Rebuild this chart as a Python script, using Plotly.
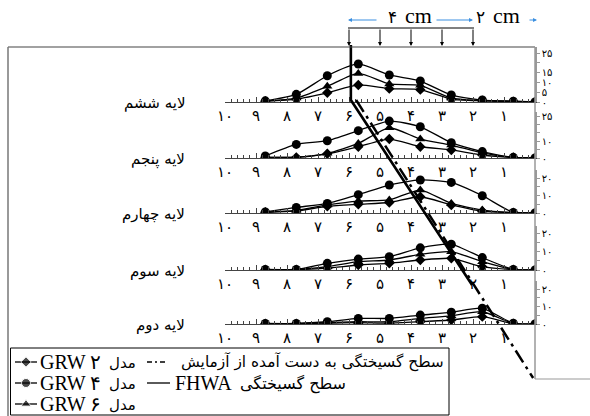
import plotly.graph_objects as go

W, H = 590, 416
FA = "۰۱۲۳۴۵۶۷۸۹"
def fa(n):
    return "".join(FA[int(c)] for c in str(n))

# ---------------- data ----------------
x_pos = [8.7, 7.7, 6.7, 5.7, 4.7, 3.7, 2.7, 1.7, 0.7, 0.0]
layer_names = ["لایه ششم", "لایه پنجم", "لایه چهارم", "لایه سوم", "لایه دوم"]

l6_grw2 = [0.4, 1.5, 4.7, 8.7, 6.8, 6.3, 1.5, 0.6, 0.2, 0]
l6_grw4 = [0.6, 3.9, 13.4, 19.4, 13.8, 10.7, 3.6, 1.0, 0.4, 0]
l6_grw6 = [0.5, 2.0, 8.0, 14.6, 9.2, 8.5, 2.0, 0.8, 0.3, 0]

l5_grw2 = [0.4, 0.4, 2.5, 6.7, 11.3, 6.7, 4.8, 1.8, 0.3, 0]
l5_grw4 = [1.2, 8.1, 10.3, 16.3, 22.0, 18.6, 9.1, 3.8, 0.4, 0]
l5_grw6 = [0.4, 0.5, 2.8, 8.7, 18.0, 11.3, 7.7, 3.0, 0.3, 0]

l4_grw2 = [0.4, 1.2, 3.8, 5.0, 6.0, 9.3, 4.6, 1.0, 0.2, 0]
l4_grw4 = [0.6, 3.2, 5.5, 10.5, 16.0, 18.9, 17.5, 9.9, 0.3, 0]
l4_grw6 = [0.4, 1.5, 4.6, 6.8, 7.5, 13.1, 5.5, 1.7, 0.3, 0]

l3_grw2 = [0.2, 0.2, 1.0, 2.7, 3.6, 5.4, 6.3, 1.8, 0.2, 0]
l3_grw4 = [0.3, 0.3, 3.6, 5.9, 7.2, 12.0, 13.9, 6.7, 0.3, 0]
l3_grw6 = [0.3, 0.3, 1.8, 4.5, 5.4, 8.5, 9.9, 4.5, 0.3, 0]

l2_grw2 = [0.2, 0.2, 0.5, 0.8, 0.5, 1.3, 2.3, 4.2, 0.2, 0]
l2_grw4 = [0.3, 0.3, 1.3, 3.2, 3.2, 5.1, 6.7, 9.0, 0.4, 0]
l2_grw6 = [0.2, 0.2, 0.8, 1.3, 1.3, 3.2, 4.7, 7.0, 0.3, 0]

panels = [
    (l6_grw2, l6_grw4, l6_grw6),
    (l5_grw2, l5_grw4, l5_grw6),
    (l4_grw2, l4_grw4, l4_grw6),
    (l3_grw2, l3_grw4, l3_grw6),
    (l2_grw2, l2_grw4, l2_grw6),
]
x_ticks = [1, 2, 3, 4, 5, 6, 7, 8, 9, 10]
y_tickvals = [[0, 5, 10, 15, 20, 25], [0, 5, 10, 15, 20, 25],
              [0, 5, 10, 15, 20], [0, 5, 10, 15, 20], [0, 5, 10, 15, 20]]
y_ticklabels = [[0, 5, 10, 15, None, 25], [0, None, 10, None, None, 25],
                [0, None, 10, None, 20], [0, None, 10, None, 20], [0, None, 10, None, 20]]

# failure surfaces (distance, depth)
fhwa_x = [5.94, 5.94, 2.03]
fhwa_depth = [45, 100, 285]
test_x = [5.77, 0.06]
test_depth = [100, 378]

# ---------------- layout helpers ----------------
def px(x):
    return x / W
def py(y):
    return 1 - y / H

xdom = [px(225), px(535)]
# (baseline px, top px, y max)
pan_geom = [(102, 47, 28.06), (158, 112, 27.4), (213, 170, 24.6), (270, 226, 23.8), (324, 281, 24.6)]

series_style = [("diamond", 8), ("circle", 9), ("triangle-up", 9)]

fig = go.Figure()
layout = dict(width=W, height=H, margin=dict(l=0, r=0, t=0, b=0, autoexpand=False),
              paper_bgcolor="white", plot_bgcolor="rgba(0,0,0,0)", showlegend=False)

for i, (data, geom) in enumerate(zip(panels, pan_geom)):
    k = "" if i == 0 else str(i + 1)
    base, top, ymax = geom
    for vals, (sym, sz) in zip(data, series_style):
        fig.add_trace(go.Scatter(x=x_pos, y=vals, xaxis="x" + k, yaxis="y" + k,
                                 mode="lines+markers",
                                 line=dict(color="black", width=1.3, shape="spline", smoothing=0.6),
                                 marker=dict(symbol=sym, size=sz, color="black")))
    layout["xaxis" + k] = dict(domain=xdom, range=[10, 0], anchor="y" + k,
                               showline=True, linecolor="#444", linewidth=1.2,
                               ticks="inside", ticklen=5, tickcolor="#444", tickwidth=1,
                               tickvals=x_ticks, ticktext=[fa(v) for v in x_ticks],
                               tickfont=dict(family="DejaVu Sans", size=15, color="black"),
                               minor=dict(dtick=0.2, ticks="inside", ticklen=3, tickcolor="#444"),
                               showgrid=False, zeroline=False, fixedrange=True)
    layout["yaxis" + k] = dict(domain=[py(base), py(top)], range=[0, ymax], anchor="x" + k,
                               side="right", showline=True, linecolor="#999", linewidth=1.5,
                               ticks="outside", ticklen=3, tickcolor="#999",
                               tickvals=y_tickvals[i],
                               ticktext=["" if v is None else fa(v) for v in y_ticklabels[i]],
                               tickfont=dict(family="DejaVu Sans", size=10, color="black"),
                               showgrid=False, zeroline=False, fixedrange=True)

# failure surfaces on an overlay axis
fig.add_trace(go.Scatter(x=test_x, y=test_depth, xaxis="x6", yaxis="y6", mode="lines",
                         line=dict(color="black", width=2.5, dash="14px,5px,3px,5px")))
fig.add_trace(go.Scatter(x=fhwa_x, y=fhwa_depth, xaxis="x6", yaxis="y6", mode="lines",
                         line=dict(color="black", width=2.6)))
layout["xaxis6"] = dict(domain=xdom, range=[10, 0], anchor="y6", visible=False, fixedrange=True)
layout["yaxis6"] = dict(domain=[0, 1], range=[H, 0], anchor="x6", visible=False, fixedrange=True)

# legend overlay axis (layout units)
layout["xaxis7"] = dict(domain=[0, 1], range=[0, W], anchor="y7", visible=False, fixedrange=True)
layout["yaxis7"] = dict(domain=[0, 1], range=[H, 0], anchor="x7", visible=False, fixedrange=True)
rows = [362, 383, 404]
for (sym, sz), r in zip(series_style, rows):
    fig.add_trace(go.Scatter(x=[15, 26, 37], y=[r, r, r], xaxis="x7", yaxis="y7",
                             mode="lines+markers", line=dict(color="black", width=1.3),
                             marker=dict(symbol=sym, size=[0, sz, 0], color="black")))
fig.add_trace(go.Scatter(x=[147, 168], y=[rows[0], rows[0]], xaxis="x7", yaxis="y7", mode="lines",
                         line=dict(color="black", width=1.3, dash="5px,3px,2px,3px")))
fig.add_trace(go.Scatter(x=[147, 170], y=[rows[1], rows[1]], xaxis="x7", yaxis="y7", mode="lines",
                         line=dict(color="black", width=1.3)))

shapes = [
    dict(type="line", xref="paper", yref="paper", x0=px(8), x1=px(535), y0=py(47), y1=py(47),
         line=dict(color="#444", width=1.2)),
    dict(type="line", xref="paper", yref="paper", x0=px(8), x1=px(8), y0=py(47), y1=py(416),
         line=dict(color="#777", width=1.5)),
    dict(type="line", xref="paper", yref="paper", x0=px(535), x1=px(535), y0=py(47), y1=py(379),
         line=dict(color="#999", width=1.5)),
    dict(type="line", xref="paper", yref="paper", x0=px(535), x1=px(590), y0=py(379), y1=py(379),
         line=dict(color="#999", width=1.2)),
    dict(type="rect", xref="paper", yref="paper", x0=px(10.5), x1=px(449), y0=py(348), y1=py(415),
         line=dict(color="black", width=1)),
    dict(type="line", xref="paper", yref="paper", x0=px(348), x1=px(474), y0=py(28), y1=py(28),
         line=dict(color="black", width=1)),
]
layout["shapes"] = shapes

ann = []
pers = "DejaVu Sans"
serif = "Liberation Serif"
for name, geom in zip(layer_names, pan_geom):
    ann.append(dict(xref="paper", yref="paper", x=px(187), y=py(geom[0] + 1), text=name,
                    showarrow=False, xanchor="right", yanchor="middle",
                    font=dict(family=pers, size=15, color="black")))
# top scale (number and unit as separate texts)
for num, xn in [(4, 399), (2, 487)]:
    ann.append(dict(xref="paper", yref="paper", x=px(xn), y=py(17), text=fa(num), showarrow=False,
                    xanchor="right", yanchor="middle", font=dict(family=pers, size=17, color="black")))
    ann.append(dict(xref="paper", yref="paper", x=px(xn + 4), y=py(16), text="cm", showarrow=False,
                    xanchor="left", yanchor="middle", font=dict(family=serif, size=22, color="black")))
blue = "#3b8fe0"
for hx, tx in [(348, 378), (473, 435), (537, 528)]:
    ann.append(dict(xref="paper", yref="paper", x=px(hx), y=py(20), ax=tx - hx, ay=0, text="",
                    showarrow=True, arrowhead=2, arrowsize=0.8, arrowwidth=1, arrowcolor=blue))
for v in [6, 5, 4, 3, 2]:
    ann.append(dict(xref="x6", yref="y6", x=v, y=46, ax=0, ay=-18, text="", showarrow=True,
                    arrowhead=2, arrowsize=0.8, arrowwidth=1, arrowcolor="black"))
# legend texts
for r, n in zip(rows, [2, 4, 6]):
    ann.append(dict(xref="paper", yref="paper", x=px(38), y=py(r), text="GRW " + fa(n),
                    showarrow=False, xanchor="left", yanchor="middle",
                    font=dict(family=serif, size=20, color="black")))
    ann.append(dict(xref="paper", yref="paper", x=px(138), y=py(r + 1), text="مدل",
                    showarrow=False, xanchor="right", yanchor="middle",
                    font=dict(family=pers, size=15, color="black")))
ann.append(dict(xref="paper", yref="paper", x=px(446), y=py(rows[0]), text="سطح گسیختگی به دست آمده از آزمایش",
                showarrow=False, xanchor="right", yanchor="middle",
                font=dict(family=pers, size=15.4, color="black")))
ann.append(dict(xref="paper", yref="paper", x=px(173), y=py(rows[1]), text="FHWA",
                showarrow=False, xanchor="left", yanchor="middle",
                font=dict(family=serif, size=20, color="black")))
ann.append(dict(xref="paper", yref="paper", x=px(238), y=py(rows[1] + 1), text="سطح گسیختگی",
                showarrow=False, xanchor="left", yanchor="middle",
                font=dict(family=pers, size=16, color="black")))
layout["annotations"] = ann

fig.update_layout(**layout)
fig.write_html("out.html", config={"displayModeBar": False},
               post_script="document.body.style.margin='0';document.body.style.overflow='hidden';")
